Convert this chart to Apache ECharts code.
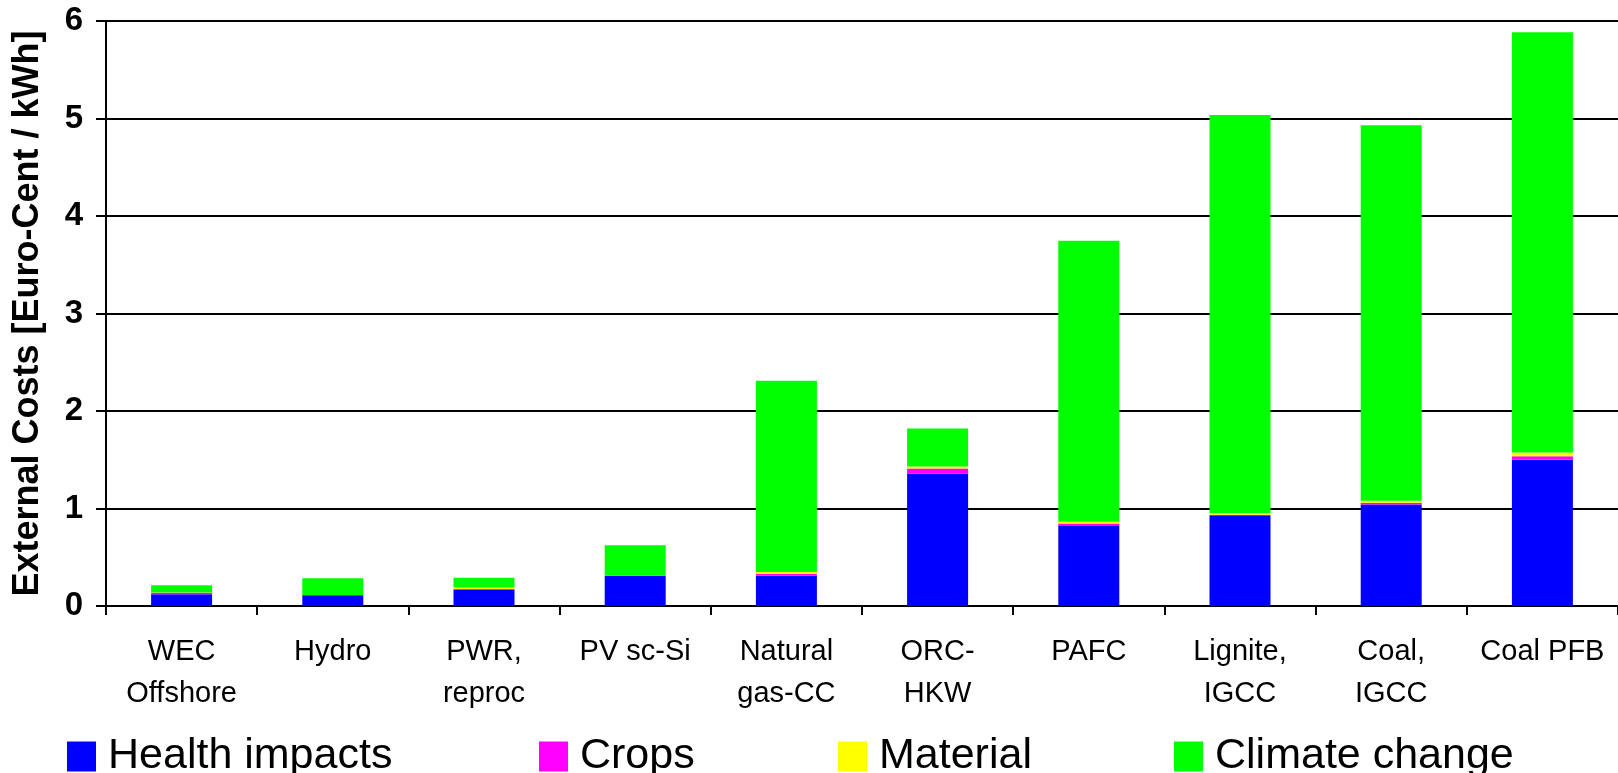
<!DOCTYPE html>
<html>
<head>
<meta charset="utf-8">
<script src="https://cdn.jsdelivr.net/npm/echarts@6/dist/echarts.min.js"></script>
<style>
html,body{margin:0;padding:0;background:#fff;}
#chart{width:1618px;height:773px;}
</style>
</head>
<body>
<div id="chart"></div>
<script>
const categories = ['WEC\nOffshore','Hydro','PWR,\nreproc','PV sc-Si','Natural\ngas-CC','ORC-\nHKW','PAFC','Lignite,\nIGCC','Coal,\nIGCC','Coal PFB'];
const healthImpacts = [0.12, 0.11, 0.17, 0.31, 0.31, 1.36, 0.82, 0.93, 1.04, 1.50];
const crops         = [0.015, 0.002, 0.005, 0.002, 0.02, 0.05, 0.025, 0.005, 0.02, 0.035];
const material      = [0.003, 0.002, 0.015, 0.002, 0.02, 0.02, 0.02, 0.02, 0.02, 0.04];
const climateChange = [0.075, 0.17, 0.10, 0.31, 1.96, 0.39, 2.88, 4.08, 3.85, 4.31];
const seriesNames = ['Health impacts','Crops','Material','Climate change'];
const seriesColors = ['#0000FF','#FF00FF','#FFFF00','#00FF00'];
const seriesData = [healthImpacts, crops, material, climateChange];
const legendLeft = [67, 539, 838, 1174];
const FONT = 'Liberation Sans';

const chart = echarts.init(document.getElementById('chart'));
chart.setOption({
  animation: false,
  backgroundColor: '#fff',
  grid: {left: 106, right: 0, top: 21, bottom: 167, containLabel: false},
  legend: seriesNames.map((n, i) => ({
    data: [n],
    left: legendLeft[i],
    top: 735,
    itemWidth: 29,
    itemHeight: 30,
    icon: 'rect',
    padding: 0,
    textStyle: {fontFamily: FONT, fontSize: 43, color: '#000', padding: [0, 0, 0, 7]}
  })),
  xAxis: {
    type: 'category',
    data: categories,
    axisLine: {lineStyle: {color: '#000', width: 2}},
    axisTick: {show: true, length: 9, lineStyle: {color: '#000', width: 2}},
    axisLabel: {fontFamily: FONT, fontSize: 29, lineHeight: 42, color: '#000', margin: 25, interval: 0}
  },
  yAxis: {
    type: 'value',
    min: 0, max: 6, interval: 1,
    name: 'External Costs [Euro-Cent / kWh]',
    nameLocation: 'middle',
    nameGap: 60,
    nameTextStyle: {fontFamily: FONT, fontSize: 36, fontWeight: 'bold', color: '#000'},
    axisLine: {show: true, lineStyle: {color: '#000', width: 2}},
    axisTick: {show: true, length: 10, lineStyle: {color: '#000', width: 2}},
    axisLabel: {fontFamily: FONT, fontSize: 33, fontWeight: 'bold', color: '#000', margin: 23},
    splitLine: {show: true, lineStyle: {color: '#000', width: 2}}
  },
  series: seriesNames.map((n, i) => ({
    name: n,
    type: 'bar',
    stack: 'total',
    barWidth: 61,
    itemStyle: {color: seriesColors[i]},
    data: seriesData[i]
  }))
});
</script>
</body>
</html>
